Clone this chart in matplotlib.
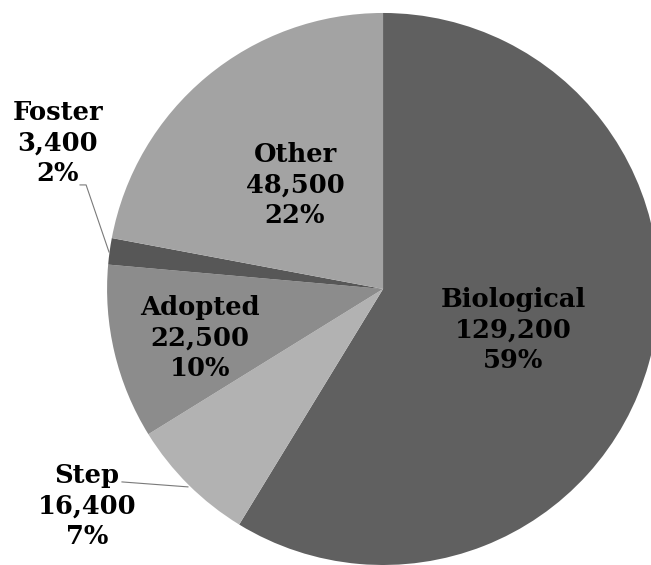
import matplotlib.pyplot as plt

# data
categories = ["Biological", "Step", "Adopted", "Foster", "Other"]
counts = [129200, 16400, 22500, 3400, 48500]
colors = ["#606060", "#b2b2b2", "#8c8c8c", "#575757", "#a3a3a3"]

total = sum(counts)
percents = [round(100 * c / total) for c in counts]

fig = plt.figure(figsize=(6.51, 5.65), dpi=100)
ax = fig.add_axes([0, 0, 1, 1])

ax.pie(counts, colors=colors, startangle=90, counterclock=False,
       radius=1.0, center=(0, 0), wedgeprops=dict(linewidth=0))

# pie is centred off-centre and clipped at right/bottom like the original
ax.set_xlim(-1.388, 0.971)
ax.set_ylim(-1.0, 1.047)
ax.set_aspect("auto")
ax.axis("off")

# label anchor points (data units) and optional leader lines
label_pos = {
    "Biological": (0.471, -0.149),
    "Step": (-1.072, -0.786),
    "Adopted": (-0.663, -0.178),
    "Foster": (-1.178, 0.529),
    "Other": (-0.319, 0.377),
}
leaders = {
    "Step": [(-0.946, -0.699), (-0.707, -0.717)],
    "Foster": [(-1.098, 0.377), (-1.076, 0.377), (-0.993, 0.134)],
}

for name, cnt, pct in zip(categories, counts, percents):
    x, y = label_pos[name]
    ax.text(x, y, f"{name}\n{cnt:,}\n{pct}%", ha="center", va="center",
            fontsize=18.5, fontweight="bold", family="DejaVu Serif",
            linespacing=1.28, color="black")
    if name in leaders:
        xs = [p[0] for p in leaders[name]]
        ys = [p[1] for p in leaders[name]]
        ax.plot(xs, ys, color="#7a7a7a", linewidth=0.8)

fig.savefig("out.png", dpi=100)
